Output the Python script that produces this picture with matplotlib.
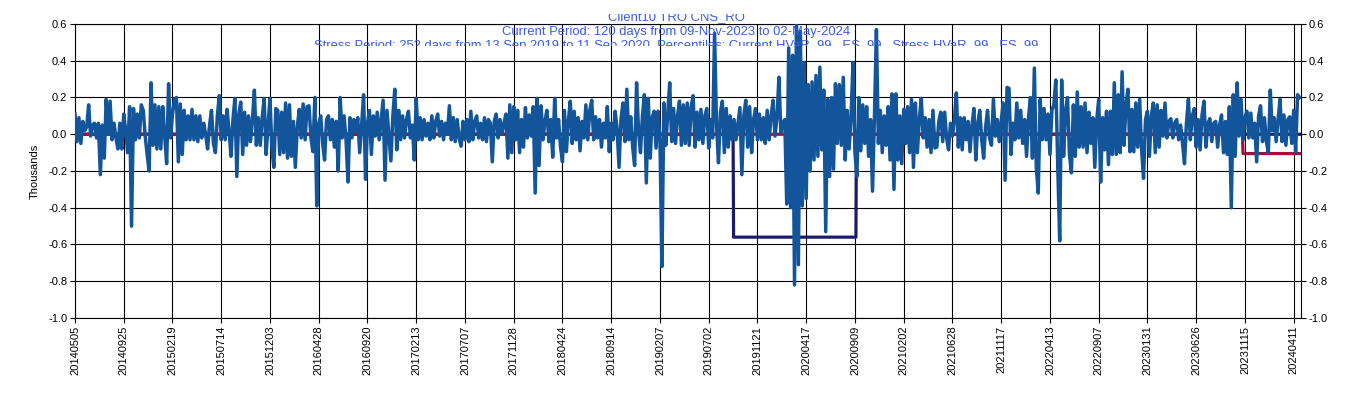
import matplotlib
matplotlib.use("Agg")
import matplotlib.pyplot as plt
import numpy as np
from matplotlib.ticker import FixedLocator, MultipleLocator, FormatStrFormatter
from matplotlib.transforms import Bbox, TransformedBbox

plt.rcParams['font.family'] = ['Liberation Sans', 'DejaVu Sans']
plt.rcParams['axes.unicode_minus'] = False

# daily P&L (thousands), read every 4th trading day from 2014-05-05
pnl = [
    0.11, -0.04, 0.09, -0.05, 0.07, 0.02, 0.04, 0.16, -0.01, 0.05,
    0.06, -0.02, 0.06, -0.22, 0.05, -0.13, 0.19, 0.00, 0.18, -0.03,
    0.06, -0.02, -0.08, 0.06, -0.08, 0.11, 0.02, -0.10, 0.15, -0.50,
    0.14, -0.03, 0.11, -0.02, 0.16, 0.13, -0.01, -0.11, -0.20, 0.28,
    -0.06, 0.16, -0.08, 0.15, -0.08, 0.15, -0.01, -0.16, 0.275, -0.02,
    0.11, 0.19, 0.20, -0.15, 0.165, -0.11, 0.13, -0.03, 0.10, -0.03,
    0.135, -0.03, 0.10, -0.04, 0.10, -0.02, 0.06, 0.00, -0.08, 0.05,
    0.13, -0.05, -0.10, 0.10, 0.21, -0.03, 0.10, -0.03, 0.135, 0.02,
    -0.12, 0.08, 0.195, -0.23, 0.11, 0.175, -0.11, 0.12, -0.06, 0.10,
    -0.04, 0.08, 0.24, -0.06, 0.09, -0.06, 0.09, 0.195, -0.11, 0.05,
    0.195, -0.08, -0.18, 0.14, 0.13, -0.11, 0.12, -0.10, 0.17, -0.13,
    0.16, -0.12, 0.07, -0.18, 0.04, 0.135, -0.02, 0.165, -0.03, 0.15,
    0.155, -0.02, -0.095, 0.20, -0.39, 0.06, 0.10, -0.05, -0.14, 0.08,
    0.10, -0.03, 0.08, -0.07, 0.07, -0.20, 0.20, -0.02, 0.10, -0.03,
    -0.26, 0.09, -0.02, 0.08, 0.01, 0.09, -0.10, 0.05, 0.215, -0.245,
    0.06, 0.13, -0.11, 0.10, -0.01, 0.12, -0.03, 0.08, 0.185, -0.25,
    0.13, -0.01, -0.145, 0.10, 0.245, -0.085, 0.13, -0.03, 0.10, -0.02,
    0.08, 0.125, -0.02, 0.05, -0.14, 0.195, -0.03, 0.09, -0.03, 0.08,
    -0.01, 0.06, -0.03, 0.10, -0.02, 0.07, 0.11, -0.01, 0.07, -0.03,
    0.06, 0.00, 0.155, -0.03, 0.09, -0.04, 0.08, -0.02, -0.065, 0.07,
    -0.03, 0.08, -0.04, 0.125, -0.03, 0.07, 0.10, -0.02, 0.06, -0.03,
    0.09, -0.04, 0.08, 0.06, -0.15, 0.07, 0.11, -0.02, 0.08, 0.00,
    0.06, 0.11, -0.13, 0.16, -0.10, 0.15, -0.03, 0.13, -0.10, 0.08,
    -0.07, 0.145, -0.02, 0.105, -0.01, 0.15, -0.32, 0.195, -0.17, 0.155,
    -0.03, 0.07, 0.13, -0.04, 0.08, -0.125, 0.195, -0.02, 0.08, -0.07,
    -0.15, 0.13, -0.095, 0.07, 0.18, -0.05, 0.125, -0.03, 0.09, -0.09,
    0.07, -0.02, 0.16, -0.03, 0.13, 0.185, -0.03, 0.095, -0.02, 0.08,
    -0.07, 0.06, -0.02, 0.15, -0.095, 0.06, -0.03, 0.125, 0.03, -0.18,
    0.08, 0.17, -0.04, 0.245, -0.03, 0.095, -0.07, -0.17, 0.28, 0.02,
    -0.10, 0.10, 0.215, -0.265, 0.195, -0.13, 0.09, 0.125, -0.075, 0.125,
    -0.03, -0.72, 0.17, -0.06, 0.115, 0.28, -0.04, 0.14, -0.05, 0.10,
    0.18, -0.06, 0.16, -0.05, 0.17, -0.06, 0.15, 0.21, -0.07, 0.12,
    -0.03, 0.135, -0.05, 0.10, 0.14, -0.075, 0.08, -0.02, 0.55, 0.05,
    -0.155, 0.12, 0.18, -0.10, 0.14, -0.07, 0.10, -0.03, 0.08, -0.03,
    0.06, 0.145, -0.22, 0.10, 0.185, -0.07, 0.15, -0.10, 0.08, 0.14,
    -0.03, 0.11, -0.03, 0.09, -0.05, 0.13, -0.03, 0.10, 0.185, -0.01,
    0.09, 0.31, 0.01, 0.06, 0.08, -0.38, 0.47, -0.40, 0.43, -0.82,
    0.62, -0.71, 0.56, -0.39, 0.39, -0.35, 0.27, -0.20, 0.285, -0.14,
    0.32, -0.12, 0.365, -0.085, 0.24, -0.53, 0.19, -0.23, 0.20, -0.19,
    0.275, -0.05, 0.27, -0.06, 0.31, -0.14, 0.13, -0.08, 0.10, 0.39,
    -0.10, -0.23, 0.20, -0.09, 0.16, -0.05, 0.15, -0.12, 0.08, -0.31,
    0.10, 0.57, -0.05, 0.13, -0.10, 0.10, -0.06, 0.15, -0.14, 0.22,
    -0.30, 0.22, -0.14, 0.10, -0.16, 0.135, -0.05, 0.15, -0.10, 0.19,
    -0.18, 0.17, -0.10, 0.08, 0.195, -0.02, 0.09, -0.07, 0.08, -0.10,
    0.13, -0.075, -0.07, 0.07, 0.12, -0.04, 0.12, -0.02, -0.085, 0.06,
    -0.01, 0.08, 0.225, -0.07, 0.09, -0.085, 0.09, -0.03, 0.07, -0.095,
    0.05, 0.14, -0.14, 0.06, 0.13, -0.03, -0.13, 0.04, 0.13, -0.02,
    -0.06, 0.19, -0.01, 0.08, -0.04, 0.07, 0.17, -0.25, 0.255, 0.25,
    -0.11, 0.06, -0.03, 0.17, -0.02, 0.13, -0.05, 0.08, -0.12, 0.09,
    0.20, -0.13, 0.36, -0.18, -0.32, 0.19, -0.03, 0.14, -0.03, 0.11,
    -0.11, 0.13, 0.16, 0.295, -0.175, -0.58, 0.295, -0.12, 0.13, 0.20,
    -0.11, -0.21, 0.16, -0.12, 0.23, -0.07, 0.15, -0.07, 0.17, -0.10,
    0.12, -0.05, 0.09, -0.18, 0.08, 0.19, -0.26, 0.09, -0.085, 0.125,
    -0.165, 0.125, -0.11, 0.28, -0.11, 0.215, -0.10, 0.34, -0.06, 0.16,
    0.245, -0.095, 0.135, -0.095, 0.17, -0.07, 0.19, -0.085, -0.24, 0.08,
    0.125, -0.12, 0.10, 0.17, -0.10, 0.16, -0.07, 0.13, -0.01, 0.17,
    -0.02, 0.07, 0.085, -0.02, 0.06, 0.08, -0.03, 0.05, -0.05, -0.16,
    0.06, 0.19, -0.03, 0.10, 0.14, -0.07, 0.08, -0.085, 0.105, 0.18,
    -0.07, 0.06, 0.085, -0.04, 0.06, 0.07, -0.07, 0.05, 0.105, -0.10,
    0.07, -0.11, 0.15, -0.40, 0.215, -0.12, 0.28, -0.01, 0.19, -0.03,
    0.09, 0.125, -0.02, 0.115, -0.02, 0.06, -0.15, 0.10, 0.155, -0.04,
    0.09, -0.04, -0.10, 0.24, 0.02, 0.09, -0.04, 0.08, 0.19, -0.04,
    0.105, -0.06, 0.08, 0.095, -0.05, 0.13, -0.095, 0.215, 0.20,
]
sample_step = 4
n_days = 2516

tick_labels = [
    "20140505", "20140925", "20150219", "20150714", "20151203", "20160428",
    "20160920", "20170213", "20170707", "20171128", "20180424", "20180914",
    "20190207", "20190702", "20191121", "20200417", "20200909", "20210202",
    "20210628", "20211117", "20220413", "20220907", "20230131", "20230626",
    "20231115", "20240411",
]
tick_every = 100

# stress period 13-Sep-2019 .. 11-Sep-2020, current period from 09-Nov-2023
stress_start, stress_end, stress_level = 1351, 1603, -0.56
current_start, current_level = 2396, -0.105

title_lines = [
    "Client10 TRO CNS_RO",
    "Current Period: 120 days from 09-Nov-2023 to 02-May-2024",
    "Stress Period: 252 days from 13 Sep 2019 to 11 Sep 2020, Percentiles: "
    "Current HVaR_99 , ES_99 , Stress HVaR_99 , ES_99",
]

W, H = 1353, 398
fig = plt.figure(figsize=(W / 100, H / 100), dpi=100)
ax = fig.add_axes([75 / W, 1 - 318 / H, (1301 - 75) / W, (318 - 24) / H])

days = np.arange(n_days)
stress = np.where((days >= stress_start) & (days < stress_end), stress_level, 0.0)
current = np.where(days >= current_start, current_level, 0.0)
x_pnl = np.arange(len(pnl)) * sample_step

ax.plot(days, stress, color="#1c1a6b", lw=2.3, zorder=2)
ax.plot(days, current, color="#a0103c", lw=2.3, zorder=3)
ax.plot(x_pnl, pnl, color="#13559b", lw=2.5, zorder=4)

ax.set_xlim(0, n_days - 1)
ax.set_ylim(-1.0, 0.6)
ax.yaxis.set_major_locator(MultipleLocator(0.2))
ax.yaxis.set_major_formatter(FormatStrFormatter("%.1f"))
ax.xaxis.set_major_locator(FixedLocator(np.arange(len(tick_labels)) * tick_every))
ax.set_xticklabels(tick_labels, rotation=90, fontsize=8)

ax.grid(True, color="black", lw=0.8, zorder=1)
ax.set_axisbelow(True)
for s in ax.spines.values():
    s.set_color("black")
    s.set_linewidth(0.8)
ax.tick_params(axis="both", direction="out", length=3.5, width=0.8, labelsize=8,
               colors="black", pad=2)
ax.tick_params(axis="y", right=True, labelright=True)
ax.set_ylabel("Thousands", fontsize=8, labelpad=6)

# title block, partly cut off like in the original
clip = TransformedBbox(Bbox([[0, 1 - 46 / H], [1, 1 - 14 / H]]), fig.transFigure)
for line, base in zip(title_lines, [20, 35, 49]):
    t = fig.text(676 / W, 1 - base / H, line, ha="center", va="baseline",
                 fontsize=9.4, color="#3b5ce0")
    t.set_clip_box(clip)
    t.set_clip_on(True)

fig.savefig("out.png", dpi=100)
